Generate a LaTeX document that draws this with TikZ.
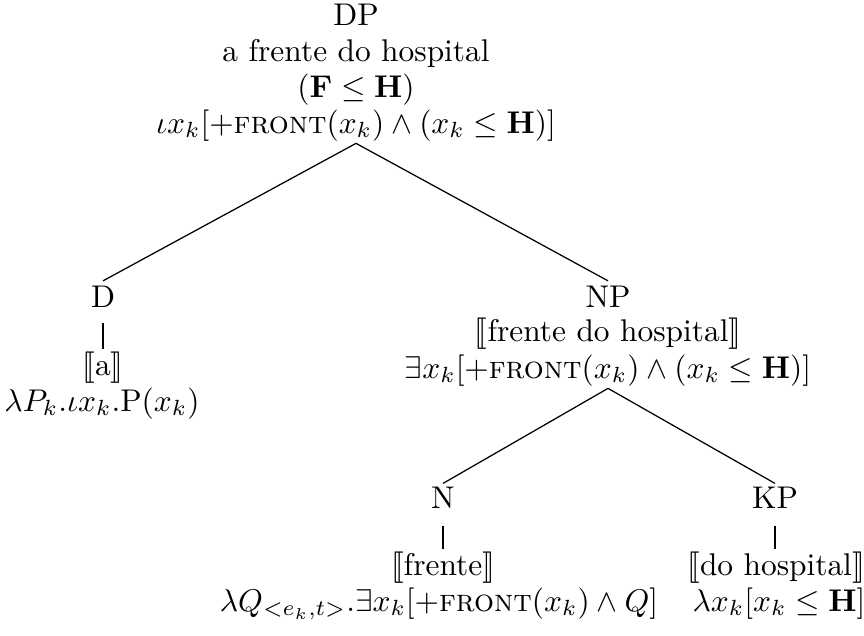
\documentclass[tikz,border=0pt]{standalone}
\usepackage{amsmath}
\usepackage{stmaryrd}
\begin{document}
\begin{tikzpicture}[x=0.3185pt, y=-0.3185pt,
  lbl/.style={anchor=base, inner sep=0pt},
  branch/.style={line width=0.4pt}]
\useasboundingbox (0,0) rectangle (864,635);

% root: DP
\node[lbl] (dp)      at (356,25)  {DP};
\node[lbl] (dpgloss) at (356,61)  {a frente do hospital};
\node[lbl] (dprel)   at (356,97)  {$(\mathbf{F} \leq \mathbf{H})$};
\node[lbl] (dpsem)   at (356,133) {$\iota x_k[+\text{\textsc{front}}(x_k) \wedge (x_k \leq \mathbf{H})]$};

% left daughter: D
\node[lbl] (d)     at (103,307) {D};
\node[lbl] (dname) at (103,375) {$\llbracket$a$\rrbracket$};
\node[lbl] (dsem)  at (102,411) {$\lambda P_k.\iota x_k.\mathrm{P}(x_k)$};

% right daughter: NP
\node[lbl] (np)     at (608,307) {NP};
\node[lbl] (npname) at (608,341) {$\llbracket$frente do hospital$\rrbracket$};
\node[lbl] (npsem)  at (608,378) {$\exists x_k[+\text{\textsc{front}}(x_k) \wedge (x_k \leq \mathbf{H})]$};

% NP's daughters: N and KP
\node[lbl] (n)     at (443,508) {N};
\node[lbl] (nname) at (443,575) {$\llbracket$frente$\rrbracket$};
\node[lbl] (nsem)  at (439,611) {$\lambda Q_{<e_k,t>}.\exists x_k[+\text{\textsc{front}}(x_k) \wedge Q]$};

\node[lbl] (kp)     at (775,508) {KP};
\node[lbl] (kpname) at (776,575) {$\llbracket$do hospital$\rrbracket$};
\node[lbl] (kpsem)  at (779,611) {$\lambda x_k[x_k \leq \mathbf{H}]$};

% branches
\draw[branch] ([yshift=-0.6pt]dpsem.south) -- ([yshift=1.3pt]d.north);
\draw[branch] ([yshift=-0.6pt]dpsem.south) -- ([yshift=1.3pt]np.north);
\draw[branch] ([yshift=-0.6pt]npsem.south) -- ([yshift=0.8pt]n.north);
\draw[branch] ([yshift=-0.6pt]npsem.south) -- ([yshift=0.8pt]kp.north);

% unary links
\draw[branch] ([yshift=-4.8pt]d.south) -- ([yshift=0.5pt]dname.north -| d.south);
\draw[branch] ([yshift=-5.4pt]n.south) -- ([yshift=0.5pt]nname.north -| n.south);
\draw[branch] ([yshift=-5.4pt]kp.south) -- ([yshift=0.5pt]kpname.north -| kp.south);
\end{tikzpicture}
\end{document}
